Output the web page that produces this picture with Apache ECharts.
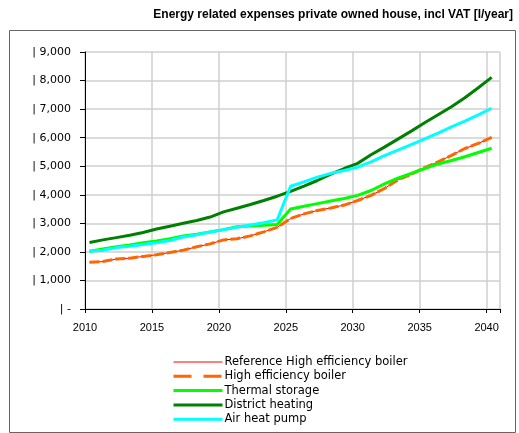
<!DOCTYPE html>
<html>
<head>
<meta charset="utf-8">
<script src="https://cdn.jsdelivr.net/npm/echarts@6/dist/echarts.min.js"></script>
<style>html,body{margin:0;padding:0;background:#fff;}#c{width:519px;height:433px;}</style>
</head>
<body>
<div id="c"></div>
<script>
const titleText = 'Energy related expenses private owned house, incl VAT [l/year]';
const years = [2010,2011,2012,2013,2014,2015,2016,2017,2018,2019,2020,2021,2022,2023,2024,2025,2026,2027,2028,2029,2030,2031,2032,2033,2034,2035,2036,2037,2038,2039,2040];
const xTicks = [2010,2015,2020,2025,2030,2035,2040];
const seriesNames = ['Reference High efficiency boiler','High efficiency boiler','Thermal storage','District heating','Air heat pump'];
const refBoiler = [1640,1660,1750,1780,1840,1900,1980,2060,2180,2280,2420,2460,2560,2700,2860,3170,3330,3450,3540,3640,3800,3980,4220,4520,4720,4950,5150,5380,5620,5800,6010];
const highEffBoiler = [1640,1660,1750,1780,1840,1900,1980,2060,2180,2280,2420,2460,2560,2700,2860,3170,3330,3450,3540,3640,3800,3980,4220,4520,4720,4950,5150,5380,5620,5800,6010];
const thermalStorage = [2020,2100,2180,2240,2320,2380,2460,2560,2620,2700,2780,2880,2910,2930,2960,3500,3600,3690,3780,3870,3980,4150,4380,4580,4750,4920,5080,5200,5330,5480,5630];
const districtHeating = [2330,2420,2500,2580,2680,2800,2900,3000,3100,3220,3400,3530,3660,3800,3950,4120,4300,4500,4720,4920,5100,5400,5670,5950,6230,6520,6800,7080,7400,7750,8110];
const airHeatPump = [2020,2060,2150,2200,2260,2320,2400,2520,2600,2700,2780,2860,2940,3020,3120,4300,4450,4620,4750,4850,4970,5150,5370,5560,5760,5960,6160,6380,6580,6800,7030];
const yTicks = [0,1000,2000,3000,4000,5000,6000,7000,8000,9000];

const pair = arr => years.map((y, i) => [y, arr[i]]);
const colors = ['#ff0000','#ff6600','#00ff00','#008000','#00ffff'];
const widths = [1,3,3,3,3];
const dataSets = [refBoiler, highEffBoiler, thermalStorage, districtHeating, airHeatPump];
const font = 'Liberation Sans, Arial, sans-serif';
const font2 = 'DejaVu Sans, sans-serif';

const chart = echarts.init(document.getElementById('c'), null, {renderer:'canvas'});
chart.setOption({
  animation: false,
  backgroundColor: '#ffffff',
  title: {
    text: titleText, right: 6, top: 9, padding: 0,
    textStyle: {fontFamily: font, fontSize: 12, fontWeight: 'bold', color: '#000'}
  },
  graphic: [{
    type: 'rect', left: 7, top: 28, z: -1,
    shape: {width: 506, height: 402},
    style: {fill: 'none', stroke: '#666', lineWidth: 1}
  }],
  grid: {left: 85, right: 19, top: 52, bottom: 124, show: false},
  legend: {
    orient: 'vertical', left: 172, top: 356, padding: 0, itemWidth: 49, itemHeight: 14, itemGap: 2.3,
    itemStyle: {opacity: 0},
    textStyle: {fontFamily: font2, fontSize: 11.5, color: '#000', padding: [0,0,0,-3]},
    data: seriesNames.map((n, i) => ({
      name: n,
      lineStyle: {type: i === 1 ? [18, 12] : 'solid', width: i === 0 ? 1.2 : 3, color: colors[i], opacity: 1}
    }))
  },
  xAxis: [{
    type: 'value', min: 2010, max: 2041, interval: 5,
    axisLine: {show: true, onZero: false, lineStyle: {color: '#000', width: 1}},
    axisTick: {show: true, length: 4, lineStyle: {color: '#000'}},
    axisLabel: {fontFamily: font, fontSize: 11, color: '#000', margin: 13,
      formatter: v => xTicks.includes(v) ? String(v) : ''},
    splitLine: {show: true, lineStyle: {color: '#cfcfcf', width: 1.5}}
  }, {
    type: 'value', min: 2009.664, max: 2040.62, show: false
  }],
  yAxis: {
    type: 'value', min: 0, max: 9000, interval: 1000,
    axisLine: {show: true, lineStyle: {color: '#000', width: 1}},
    axisTick: {show: true, length: 5, lineStyle: {color: '#000'}},
    axisLabel: {fontFamily: font2, fontSize: 11, color: '#000', margin: 14,
      formatter: v => v === 0 ? '| -' : '| ' + v.toLocaleString('en-US')},
    splitLine: {show: true, lineStyle: {color: '#cfcfcf', width: 1.5}}
  },
  series: seriesNames.map((n, i) => ({
    name: n, type: 'line', xAxisIndex: 1, symbol: 'none', showSymbol: false,
    data: pair(dataSets[i]), z: 2 + i,
    lineStyle: {color: colors[i], width: widths[i], type: i === 1 ? [10, 3] : 'solid'},
    itemStyle: {color: colors[i]}
  }))
});
</script>
</body>
</html>
